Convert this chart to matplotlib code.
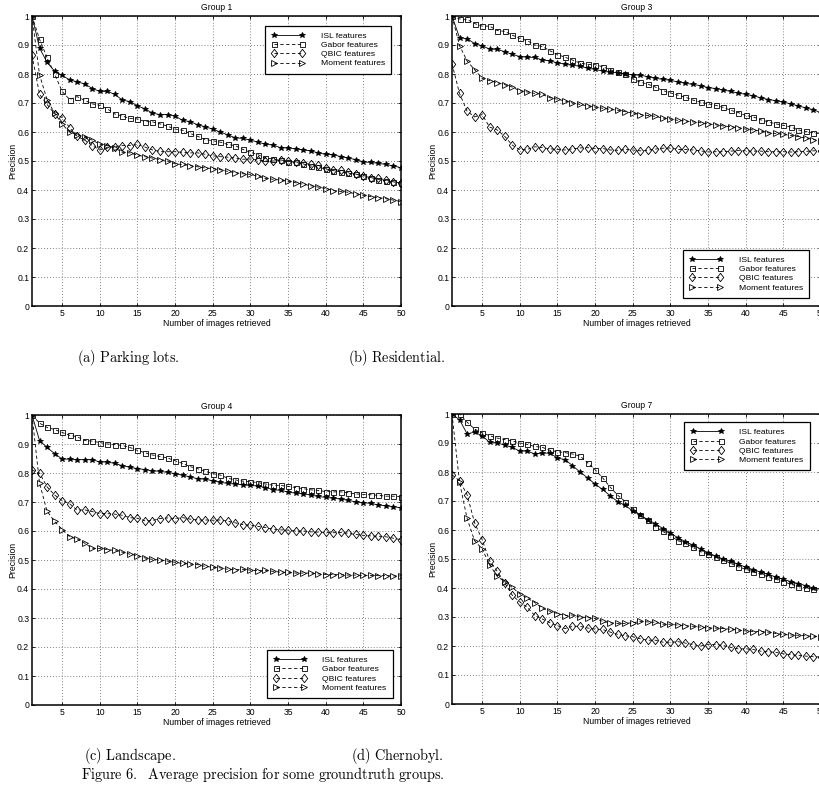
import numpy as np
import matplotlib
matplotlib.use("Agg")
import matplotlib.pyplot as plt

plt.rcParams['font.family'] = ['Liberation Sans', 'DejaVu Sans']
plt.rcParams['mathtext.fontset'] = 'cm'

n_retrieved = list(range(1, 51))
series_names = ["ISL features", "Gabor features", "QBIC features", "Moment features"]
panel_titles = ["Group 1", "Group 3", "Group 4", "Group 7"]
panel_captions = ["(a) Parking lots.", "(b) Residential.", "(c) Landscape.", "(d) Chernobyl."]
figure_caption = "Figure 6.  Average precision for some groundtruth groups."
x_ticks = [5, 10, 15, 20, 25, 30, 35, 40, 45, 50]
y_ticks = [0, 0.1, 0.2, 0.3, 0.4, 0.5, 0.6, 0.7, 0.8, 0.9, 1.0]

# ---- Group 1 ----
isl_g1 = [1.0, 0.89, 0.84, 0.81, 0.795, 0.78, 0.773, 0.766, 0.75, 0.74,
          0.74, 0.73, 0.71, 0.705, 0.69, 0.68, 0.665, 0.66, 0.66, 0.655,
          0.64, 0.636, 0.625, 0.618, 0.61, 0.60, 0.59, 0.58, 0.578, 0.572,
          0.565, 0.558, 0.555, 0.546, 0.545, 0.542, 0.538, 0.535, 0.528, 0.523,
          0.522, 0.515, 0.51, 0.505, 0.497, 0.495, 0.492, 0.488, 0.483, 0.477]
gabor_g1 = [1.0, 0.92, 0.857, 0.80, 0.74, 0.712, 0.722, 0.709, 0.697, 0.692,
            0.68, 0.662, 0.655, 0.647, 0.645, 0.636, 0.635, 0.628, 0.62, 0.61,
            0.606, 0.595, 0.585, 0.574, 0.57, 0.565, 0.557, 0.553, 0.54, 0.53,
            0.522, 0.51, 0.507, 0.504, 0.498, 0.496, 0.49, 0.483, 0.478, 0.473,
            0.467, 0.462, 0.458, 0.455, 0.447, 0.443, 0.436, 0.432, 0.428, 0.424]
qbic_g1 = [0.865, 0.73, 0.695, 0.663, 0.65, 0.615, 0.585, 0.572, 0.553, 0.538,
           0.547, 0.55, 0.553, 0.553, 0.557, 0.548, 0.538, 0.533, 0.532, 0.532,
           0.53, 0.528, 0.528, 0.523, 0.518, 0.515, 0.513, 0.51, 0.506, 0.507,
           0.503, 0.50, 0.50, 0.503, 0.499, 0.497, 0.493, 0.488, 0.485, 0.475,
           0.47, 0.468, 0.462, 0.455, 0.45, 0.443, 0.44, 0.435, 0.428, 0.425]
moment_g1 = [1.0, 0.797, 0.712, 0.665, 0.627, 0.60, 0.59, 0.583, 0.572, 0.558,
             0.553, 0.545, 0.53, 0.528, 0.52, 0.515, 0.51, 0.505, 0.50, 0.49,
             0.488, 0.484, 0.48, 0.476, 0.474, 0.47, 0.464, 0.46, 0.456, 0.454,
             0.447, 0.44, 0.437, 0.434, 0.43, 0.425, 0.42, 0.415, 0.41, 0.405,
             0.398, 0.395, 0.392, 0.387, 0.382, 0.377, 0.374, 0.37, 0.365, 0.36]

# ---- Group 3 ----
isl_g3 = [1.0, 0.925, 0.922, 0.905, 0.897, 0.886, 0.885, 0.877, 0.868, 0.86,
          0.858, 0.857, 0.848, 0.846, 0.838, 0.834, 0.83, 0.827, 0.82, 0.816,
          0.81, 0.806, 0.804, 0.80, 0.797, 0.796, 0.791, 0.785, 0.782, 0.778,
          0.773, 0.768, 0.764, 0.76, 0.753, 0.75, 0.745, 0.74, 0.734, 0.73,
          0.725, 0.718, 0.712, 0.708, 0.703, 0.697, 0.69, 0.683, 0.677, 0.666]
gabor_g3 = [1.0, 0.99, 0.988, 0.974, 0.965, 0.965, 0.95, 0.947, 0.934, 0.923,
            0.915, 0.90, 0.895, 0.88, 0.867, 0.858, 0.848, 0.838, 0.833, 0.832,
            0.825, 0.815, 0.806, 0.80, 0.783, 0.772, 0.765, 0.755, 0.743, 0.735,
            0.727, 0.72, 0.71, 0.703, 0.697, 0.692, 0.685, 0.675, 0.667, 0.657,
            0.652, 0.642, 0.635, 0.628, 0.623, 0.617, 0.607, 0.602, 0.597, 0.594]
qbic_g3 = [0.835, 0.733, 0.672, 0.652, 0.66, 0.617, 0.607, 0.585, 0.555, 0.539,
           0.54, 0.549, 0.546, 0.542, 0.54, 0.538, 0.542, 0.545, 0.546, 0.543,
           0.543, 0.538, 0.537, 0.54, 0.538, 0.535, 0.537, 0.541, 0.544, 0.545,
           0.54, 0.54, 0.538, 0.535, 0.531, 0.532, 0.532, 0.534, 0.536, 0.535,
           0.534, 0.534, 0.532, 0.532, 0.532, 0.531, 0.532, 0.533, 0.535, 0.536]
moment_g3 = [1.0, 0.898, 0.845, 0.815, 0.785, 0.777, 0.77, 0.763, 0.755, 0.742,
             0.738, 0.733, 0.73, 0.718, 0.713, 0.707, 0.70, 0.695, 0.69, 0.686,
             0.682, 0.678, 0.675, 0.67, 0.665, 0.66, 0.657, 0.654, 0.648, 0.645,
             0.64, 0.638, 0.635, 0.632, 0.628, 0.625, 0.621, 0.618, 0.615, 0.61,
             0.607, 0.603, 0.597, 0.595, 0.592, 0.588, 0.584, 0.579, 0.574, 0.568]

# ---- Group 4 ----
isl_g4 = [1.0, 0.912, 0.888, 0.867, 0.848, 0.848, 0.846, 0.846, 0.846, 0.838,
          0.838, 0.833, 0.825, 0.82, 0.815, 0.812, 0.807, 0.806, 0.802, 0.798,
          0.792, 0.787, 0.78, 0.779, 0.773, 0.768, 0.764, 0.762, 0.759, 0.757,
          0.755, 0.75, 0.743, 0.74, 0.735, 0.73, 0.728, 0.724, 0.719, 0.716,
          0.713, 0.71, 0.706, 0.70, 0.698, 0.695, 0.69, 0.687, 0.684, 0.68]
gabor_g4 = [1.0, 0.972, 0.957, 0.95, 0.94, 0.93, 0.925, 0.912, 0.91, 0.905,
            0.90, 0.898, 0.895, 0.888, 0.878, 0.87, 0.862, 0.857, 0.852, 0.842,
            0.833, 0.822, 0.815, 0.806, 0.798, 0.793, 0.782, 0.776, 0.772, 0.77,
            0.767, 0.762, 0.758, 0.757, 0.754, 0.75, 0.746, 0.742, 0.74, 0.736,
            0.735, 0.735, 0.732, 0.728, 0.726, 0.725, 0.723, 0.72, 0.72, 0.718]
qbic_g4 = [0.81, 0.80, 0.752, 0.724, 0.705, 0.694, 0.672, 0.673, 0.667, 0.66,
           0.66, 0.658, 0.654, 0.646, 0.644, 0.635, 0.636, 0.643, 0.645, 0.643,
           0.646, 0.641, 0.638, 0.638, 0.637, 0.638, 0.634, 0.628, 0.622, 0.62,
           0.616, 0.612, 0.606, 0.604, 0.603, 0.60, 0.60, 0.597, 0.596, 0.595,
           0.594, 0.595, 0.592, 0.588, 0.585, 0.583, 0.582, 0.58, 0.575, 0.57]
moment_g4 = [1.0, 0.765, 0.668, 0.633, 0.605, 0.58, 0.572, 0.558, 0.54, 0.54,
             0.536, 0.533, 0.527, 0.52, 0.515, 0.507, 0.502, 0.50, 0.496, 0.492,
             0.488, 0.486, 0.484, 0.478, 0.475, 0.473, 0.468, 0.466, 0.468, 0.465,
             0.463, 0.464, 0.461, 0.458, 0.457, 0.455, 0.455, 0.455, 0.452, 0.45,
             0.45, 0.449, 0.448, 0.448, 0.447, 0.447, 0.446, 0.446, 0.445, 0.445]

# ---- Group 7 ----
isl_g7 = [1.0, 0.98, 0.932, 0.937, 0.925, 0.902, 0.90, 0.893, 0.885, 0.872,
          0.872, 0.862, 0.865, 0.865, 0.848, 0.843, 0.822, 0.80, 0.78, 0.758,
          0.74, 0.718, 0.698, 0.685, 0.665, 0.652, 0.635, 0.622, 0.605, 0.59,
          0.573, 0.56, 0.548, 0.535, 0.522, 0.51, 0.50, 0.492, 0.482, 0.472,
          0.463, 0.455, 0.447, 0.438, 0.43, 0.422, 0.415, 0.408, 0.40, 0.395]
gabor_g7 = [1.0, 1.0, 0.972, 0.948, 0.935, 0.925, 0.917, 0.912, 0.907, 0.90,
            0.895, 0.888, 0.885, 0.875, 0.87, 0.867, 0.862, 0.855, 0.832, 0.808,
            0.78, 0.748, 0.72, 0.698, 0.672, 0.652, 0.633, 0.612, 0.595, 0.58,
            0.563, 0.555, 0.54, 0.525, 0.518, 0.507, 0.497, 0.485, 0.473, 0.465,
            0.455, 0.448, 0.438, 0.43, 0.422, 0.413, 0.405, 0.40, 0.396, 0.39]
qbic_g7 = [0.79, 0.77, 0.722, 0.625, 0.567, 0.493, 0.458, 0.418, 0.375, 0.352,
           0.333, 0.305, 0.293, 0.28, 0.27, 0.26, 0.268, 0.268, 0.262, 0.258,
           0.257, 0.248, 0.24, 0.235, 0.232, 0.225, 0.22, 0.22, 0.213, 0.213,
           0.215, 0.21, 0.205, 0.20, 0.205, 0.205, 0.202, 0.195, 0.19, 0.19,
           0.188, 0.182, 0.18, 0.178, 0.173, 0.17, 0.168, 0.165, 0.163, 0.162]
moment_g7 = [1.0, 0.765, 0.64, 0.563, 0.535, 0.48, 0.44, 0.422, 0.402, 0.38,
             0.365, 0.35, 0.33, 0.32, 0.312, 0.305, 0.307, 0.30, 0.298, 0.295,
             0.285, 0.28, 0.278, 0.278, 0.28, 0.285, 0.283, 0.282, 0.275, 0.275,
             0.272, 0.27, 0.268, 0.265, 0.262, 0.262, 0.26, 0.258, 0.255, 0.252,
             0.25, 0.25, 0.248, 0.243, 0.24, 0.238, 0.237, 0.235, 0.233, 0.232]

panels = [
    [isl_g1, gabor_g1, qbic_g1, moment_g1],
    [isl_g3, gabor_g3, qbic_g3, moment_g3],
    [isl_g4, gabor_g4, qbic_g4, moment_g4],
    [isl_g7, gabor_g7, qbic_g7, moment_g7],
]

W, H = 820, 787
fig = plt.figure(figsize=(W / 100, H / 100), dpi=100)
fig.patch.set_facecolor('white')


def px_axes(left, top, right, bottom):
    return [left / W, 1 - bottom / H, (right - left) / W, (bottom - top) / H]


axes_boxes = [
    px_axes(32, 16, 401, 306),
    px_axes(452, 16, 821, 306),
    px_axes(32, 415, 401, 705),
    px_axes(452, 414, 821, 704),
]
legend_locs = [
    ('upper right', (0.973, 0.966)),
    ('lower right', (0.968, 0.028)),
    ('lower right', (0.978, 0.024)),
    ('upper right', (0.970, 0.972)),
]

diamond = [(0, 1), (0.78, 0), (0, -1), (-0.78, 0), (0, 1)]
styles = [
    dict(marker='*', ls='-', ms=4.2, mfc='black'),
    dict(marker='s', ls='--', ms=3.6, mfc='none'),
    dict(marker=diamond, ls='--', ms=6.0, mfc='none'),
    dict(marker='>', ls='--', ms=4.2, mfc='none'),
]

for i in range(4):
    ax = fig.add_axes(axes_boxes[i])
    for vals, name, st in zip(panels[i], series_names, styles):
        line, = ax.plot(n_retrieved, vals, color='black', lw=0.6, mec='black',
                        mew=0.6, label=name, marker=st['marker'],
                        ms=st['ms'], mfc=st['mfc'], linestyle=st['ls'])
        if st['ls'] == '--':
            line.set_dashes((4, 3))
    ax.set_xlim(1, 50)
    ax.set_ylim(0, 1)
    ax.set_xticks(x_ticks)
    ax.set_yticks(y_ticks)
    ax.set_yticklabels([f"{v:g}" for v in y_ticks])
    ax.tick_params(direction='in', length=2.5, width=0.6, labelsize=6.2,
                   top=True, right=True, pad=2, colors='black')
    ax.grid(True, linestyle=(0, (1, 2.5)), color='0.35', lw=0.6)
    for sp in ax.spines.values():
        sp.set_linewidth(1.1)
    ax.set_title(panel_titles[i], fontsize=6.2, pad=4)
    ax.set_xlabel("Number of images retrieved", fontsize=6.2, labelpad=1)
    ax.set_ylabel("Precision", fontsize=6.2, labelpad=0)
    loc, anchor = legend_locs[i]
    leg = ax.legend(loc=loc, bbox_to_anchor=anchor, borderaxespad=0,
                    fontsize=6.1, numpoints=2, handlelength=3.9, handletextpad=1.9,
                    labelspacing=0.14, borderpad=0.75, fancybox=False,
                    framealpha=1, edgecolor='black')
    leg.get_frame().set_linewidth(0.9)

cap_kw = dict(ha='center', va='baseline', fontsize=10.3)


def tex(s):
    return r'$\mathrm{' + s.replace(' ', r'\ ') + '}$'


fig.text(128 / W, 1 - 362 / H, tex(panel_captions[0]), **cap_kw)
fig.text(397 / W, 1 - 362 / H, tex(panel_captions[1]), **cap_kw)
fig.text(130 / W, 1 - 760 / H, tex(panel_captions[2]), **cap_kw)
fig.text(397 / W, 1 - 760 / H, tex(panel_captions[3]), **cap_kw)
fig.text(263 / W, 1 - 779 / H, tex(figure_caption), **cap_kw)

fig.savefig("out.png", dpi=100, facecolor='white')
